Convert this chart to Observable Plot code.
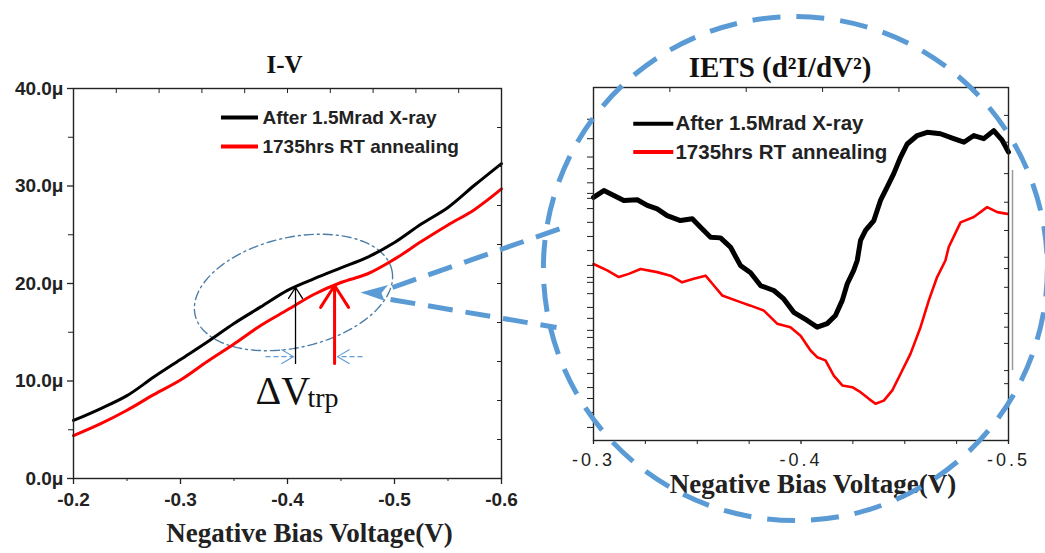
<!DOCTYPE html>
<html>
<head>
<meta charset="utf-8">
<script src="https://cdn.jsdelivr.net/npm/d3@7"></script>
<script src="https://cdn.jsdelivr.net/npm/@observablehq/plot@0.6"></script>
<style>
  html, body { margin: 0; padding: 0; background: #fff; }
  #fig { position: relative; width: 1045px; height: 553px; overflow: hidden; background: #fff; }
  .iets [aria-label="x-axis tick label"] { letter-spacing: 3px; }
</style>
</head>
<body>
<div id="fig"></div>
<script>
// ---------- series ----------
const seriesNames = ["After 1.5Mrad X-ray", "1735hrs RT annealing"];
const seriesColors = ["#000000", "#ff0000"];

// I-V sweep: current in µA against negative bias (V)
const ivVoltage   = [-0.2, -0.225, -0.25, -0.275, -0.3, -0.325, -0.35, -0.375, -0.4, -0.425, -0.45, -0.475, -0.5, -0.525, -0.55, -0.575, -0.6];
const ivAfterXray = [5.95, 7.15, 8.5, 10.4, 12.2, 14.0, 15.9, 17.6, 19.3, 20.5, 21.6, 22.7, 24.2, 26.1, 27.8, 30.1, 32.3];
const ivAnnealed  = [4.4, 5.6, 7.0, 8.6, 10.1, 12.0, 13.8, 15.7, 17.3, 18.9, 20.1, 21.0, 22.5, 24.3, 26.0, 27.6, 29.7];

// IETS (d2I/dV2), arbitrary units
const ietsXrayV = [-0.3, -0.305, -0.3098, -0.3146, -0.3211, -0.3259, -0.3307, -0.3355, -0.3419, -0.3476,
  -0.3516, -0.3564, -0.3612, -0.366, -0.3708, -0.3757, -0.3805, -0.3869, -0.3917, -0.3965,
  -0.403, -0.4078, -0.4126, -0.4166, -0.4199, -0.4223, -0.4254, -0.4271, -0.4287, -0.4311,
  -0.4351, -0.4383, -0.4415, -0.4447, -0.448, -0.4512, -0.456, -0.4608, -0.4672, -0.4736,
  -0.4785, -0.4833, -0.4881, -0.4929, -0.497, -0.5];
const ietsXray = [68.9, 70.8, 69.4, 68.0, 68.2, 66.6, 65.6, 63.7, 62.3, 62.8,
  60.4, 57.6, 57.4, 54.8, 49.6, 47.5, 43.9, 42.5, 40.1, 36.3,
  34.0, 32.1, 33.1, 35.4, 39.7, 44.4, 48.2, 51.0, 56.7, 59.5,
  62.3, 68.0, 71.8, 75.6, 80.3, 84.0, 86.4, 87.3, 86.9, 85.5,
  84.5, 86.4, 85.5, 87.8, 85.0, 81.7];
const ietsAnnealV = [-0.3, -0.3066, -0.3122, -0.317, -0.3227, -0.3307, -0.3371, -0.3427, -0.3483, -0.354,
  -0.358, -0.362, -0.3708, -0.3757, -0.3821, -0.3885, -0.3949, -0.3998, -0.4046, -0.4078,
  -0.4118, -0.4158, -0.4199, -0.4247, -0.4287, -0.4327, -0.4359, -0.4399, -0.444, -0.448,
  -0.4528, -0.4576, -0.4616, -0.4656, -0.4696, -0.4712, -0.4769, -0.4833, -0.4897, -0.4946, -0.4994];
const ietsAnneal = [50.0, 48.2, 46.3, 47.2, 48.6, 47.7, 46.7, 44.8, 45.8, 46.7,
  43.9, 41.1, 39.2, 38.2, 36.8, 33.1, 32.1, 29.7, 25.5, 23.6,
  22.7, 18.4, 15.6, 15.1, 13.7, 11.8, 10.4, 11.3, 14.2, 18.9,
  24.6, 32.1, 39.7, 46.3, 51.0, 54.8, 61.8, 63.3, 66.1, 64.7, 64.2];

// ---------- tick labels ----------
const ivXTicks = [-0.2, -0.3, -0.4, -0.5, -0.6];
const ivXMinor = [-0.25, -0.35, -0.45, -0.55];
const ivXTop = [-0.24, -0.28, -0.32, -0.36, -0.4, -0.44, -0.48, -0.52, -0.56];
const ivYTicks = [0, 10, 20, 30, 40];
const ivYMinor = [5, 15, 25, 35];
const ivYRight = [4, 8, 12, 16, 20, 24, 28, 32, 36];
const ietsXTicks = [-0.3, -0.4, -0.5];
const ietsXMinor = [-0.325, -0.35, -0.375, -0.425, -0.45, -0.475];
const ietsXTop = [-0.3368, -0.3736, -0.4104, -0.4472, -0.484];
const ietsYLeft = [3.7, 7.9, 11.9, 15, 19, 22.9, 26.3, 29.2, 31.2, 34.6, 37.7, 41.6, 44.8, 46.2, 49.6,
  53.8, 57.8, 61.8, 65.7, 68.6, 70, 73, 77, 80.3, 85.5, 91];
const ietsYRight = [16.1, 19.8, 27.5, 32.1, 36, 43.4, 48.7, 51.9, 59.5, 67.5, 75.6, 84.5, 92.1];

// ---------- styling ----------
const sans = "'Liberation Sans', Arial, sans-serif";
const serif = "'Liberation Serif', 'Times New Roman', serif";
const calloutBlue = "#5b9bd5";
const ellipseBlue = "#4d7ea8";
const ink = "#222";

const ivRows = seriesNames.map((name, s) =>
  ivVoltage.map((v, i) => ({v, i: (s === 0 ? ivAfterXray : ivAnnealed)[i], name}))).flat();
const ietsRows = [
  ...ietsXrayV.map((v, i) => ({v, d2: ietsXray[i], name: seriesNames[0]})),
  ...ietsAnnealV.map((v, i) => ({v, d2: ietsAnneal[i], name: seriesNames[1]}))
];

// ---------- I-V annotations (data units) ----------
const ivLegend = seriesNames.map((name, k) => ({name, color: seriesColors[k], i: [37.03, 34.05][k]}));
// dash-dot ring around the trap-affected knee: centre plus two conjugate semi-axes
const trapRing = {v: -0.4056, i: 19.08, a: [-0.0919, 2.33], b: [-0.0116, -5.5]};
const ringPts = d3.range(0, 2 * Math.PI + 0.05, 0.05).map(t => ({
  v: trapRing.v + trapRing.a[0] * Math.cos(t) + trapRing.b[0] * Math.sin(t),
  i: trapRing.i + trapRing.a[1] * Math.cos(t) + trapRing.b[1] * Math.sin(t)
}));
const shiftArrowBlack = [{v: -0.4075, i1: 11.8, i2: 19.6}];
const shiftArrowRed = [{v: -0.4440, i1: 11.8, i2: 19.8}];
const shiftMarkers = [
  {v1: -0.3794, v2: -0.4055, i: 12.5, dir: "right"},
  {v1: -0.4701, v2: -0.4468, i: 12.5, dir: "left"}
];
const calloutTip = [{v: -0.4682, i: 19.08}];
const calloutRays = [
  {v1: -0.4981, i1: 19.59, v2: -0.6607, i2: 25.85},
  {v1: -0.4963, i1: 18.36, v2: -0.6514, i2: 15.49}
];
// swept arrowhead, tip at the origin, pointing left
const sweptHead = {
  draw(ctx, size) {
    const r = Math.sqrt(size / Math.PI);
    ctx.moveTo(0, 0);
    ctx.lineTo(2.3 * r, -0.62 * r);
    ctx.lineTo(1.75 * r, 0.05 * r);
    ctx.lineTo(2.0 * r, 0.7 * r);
    ctx.closePath();
  }
};
// open chevrons, tip at the origin
const chevron = sign => ({
  draw(ctx, size) {
    const r = Math.sqrt(size / Math.PI);
    ctx.moveTo(-sign * r, -0.6 * r);
    ctx.lineTo(0, 0);
    ctx.lineTo(-sign * r, 0.6 * r);
  }
});

const axisFont = {fontFamily: sans, fontWeight: "bold", fontSize: 19, fill: ink, stroke: ink};

const ivPlot = Plot.plot({
  width: 545, height: 553,
  marginLeft: 73, marginRight: 44, marginTop: 88, marginBottom: 75,
  style: "position:absolute;left:0;top:0;overflow:visible;background:transparent;",
  x: {domain: [-0.2, -0.6]},
  y: {domain: [0, 40]},
  color: {type: "identity"},
  marks: [
    Plot.line(ringPts, {x: "v", y: "i", stroke: ellipseBlue, strokeWidth: 1.4, strokeDasharray: "9,4,2,4"}),
    Plot.line(ivRows, {x: "v", y: "i", z: "name", stroke: d => seriesColors[seriesNames.indexOf(d.name)], strokeWidth: 3, curve: "catmull-rom"}),
    Plot.frame({stroke: ink, strokeWidth: 1.4}),
    Plot.axisX(ivXTicks, {anchor: "bottom", tickSize: 6, tickPadding: 8, tickFormat: d => d.toFixed(1), label: null, ...axisFont, strokeWidth: 1.3}),
    Plot.axisX(ivXMinor, {anchor: "bottom", tickSize: 3, tickFormat: () => "", label: null, stroke: ink}),
    Plot.axisX(ivXTop, {anchor: "top", tickSize: -4, tickFormat: () => "", label: null, stroke: ink}),
    Plot.axisY(ivYTicks, {anchor: "left", tickSize: 6, tickPadding: 4, tickFormat: d => d.toFixed(1) + "μ", label: null, ...axisFont, strokeWidth: 1.3}),
    Plot.axisY(ivYMinor, {anchor: "left", tickSize: 5, tickFormat: () => "", label: null, stroke: ink}),
    Plot.axisY(ivYRight, {anchor: "right", tickSize: -5, tickFormat: () => "", label: null, stroke: ink}),
    // legend
    Plot.ruleY(ivLegend, {y: "i", x1: -0.3383, x2: -0.3729, stroke: "color", strokeWidth: 4}),
    Plot.text(ivLegend, {y: "i", x: -0.3766, text: "name", textAnchor: "start", lineAnchor: "middle",
      fontFamily: sans, fontWeight: "bold", fontSize: 19, fill: ink}),
    // threshold shift markers
    Plot.arrow(shiftArrowBlack, {x: "v", y1: "i1", y2: "i2", stroke: "#000", strokeWidth: 1.3, headLength: 15, headAngle: 65}),
    Plot.arrow(shiftArrowRed, {x: "v", y1: "i1", y2: "i2", stroke: "#ff0000", strokeWidth: 3, headLength: 15, headAngle: 65}),
    Plot.link(shiftMarkers, {x1: "v1", x2: "v2", y1: "i", y2: "i", stroke: calloutBlue, strokeWidth: 1.1, strokeDasharray: "5,3"}),
    Plot.dot(shiftMarkers.filter(d => d.dir === "right"), {x: "v2", y: "i", symbol: chevron(1), r: 12, fill: "none", stroke: calloutBlue, strokeWidth: 1.1}),
    Plot.dot(shiftMarkers.filter(d => d.dir === "left"), {x: "v2", y: "i", symbol: chevron(-1), r: 12, fill: "none", stroke: calloutBlue, strokeWidth: 1.1}),
    Plot.text(["ΔV"], {x: -0.3701, y: 7.59, textAnchor: "start", lineAnchor: "bottom", fontFamily: serif, fontSize: 40, fill: "#111"}),
    Plot.text(["trp"], {x: -0.4187, y: 7.3, textAnchor: "start", lineAnchor: "bottom", fontFamily: serif, fontSize: 28, fill: "#111"}),
    // zoom callout towards the IETS panel
    Plot.link(calloutRays, {x1: "v1", y1: "i1", x2: "v2", y2: "i2", stroke: calloutBlue, strokeWidth: 5, strokeDasharray: "25,13"}),
    Plot.dot(calloutTip, {x: "v", y: "i", symbol: sweptHead, r: 12, fill: calloutBlue, stroke: "none"}),
    // titles
    Plot.text(["I-V"], {frameAnchor: "top", dx: -3, dy: -16, lineAnchor: "bottom", fontFamily: serif, fontWeight: "bold", fontSize: 25, fill: "#111"}),
    Plot.text(["Negative Bias Voltage(V)"], {frameAnchor: "bottom", dx: 22, dy: 63, lineAnchor: "bottom", fontFamily: serif, fontWeight: "bold", fontSize: 27, fill: ink})
  ]
});

const ietsLegend = seriesNames.map((name, k) => ({name, color: seriesColors[k], d2: [89.7, 81.7][k]}));
const zoomRing = [{v: -0.3973, d2: 48.7}];

const ietsPlot = Plot.plot({
  width: 515, height: 553,
  marginLeft: 63, marginRight: 37, marginTop: 87, marginBottom: 113,
  className: "iets",
  style: "position:absolute;left:530px;top:0;overflow:visible;background:transparent;",
  x: {domain: [-0.3, -0.5]},
  y: {domain: [0, 100]},
  color: {type: "identity"},
  marks: [
    Plot.line(ietsRows.filter(d => d.name === seriesNames[1]), {x: "v", y: "d2", stroke: seriesColors[1], strokeWidth: 2.6}),
    Plot.line(ietsRows.filter(d => d.name === seriesNames[0]), {x: "v", y: "d2", stroke: seriesColors[0], strokeWidth: 5, strokeLinejoin: "round"}),
    Plot.frame({stroke: ink, strokeWidth: 1.4}),
    Plot.ruleX([-0.5], {y1: 19.8, y2: 76.5, dx: 4, stroke: "#999", strokeWidth: 1.5}),
    Plot.axisX(ietsXTicks, {anchor: "bottom", tickSize: 4, tickPadding: 9, tickFormat: d => d.toFixed(1), label: null,
      fontFamily: sans, fontSize: 18, fill: ink, stroke: ink, strokeWidth: 1.3}),
    Plot.axisX(ietsXMinor, {anchor: "bottom", tickSize: 4, tickFormat: () => "", label: null, stroke: ink}),
    Plot.axisX(ietsXTop, {anchor: "top", tickSize: -4, tickFormat: () => "", label: null, stroke: ink}),
    Plot.axisY(ietsYLeft, {anchor: "left", tickSize: 6, tickFormat: () => "", label: null, stroke: ink}),
    Plot.axisY(ietsYRight, {anchor: "right", tickSize: -5, tickFormat: () => "", label: null, stroke: ink}),
    Plot.ruleY(ietsLegend, {y: "d2", x1: -0.3194, x2: -0.3387, stroke: "color", strokeWidth: 4}),
    Plot.text(ietsLegend, {y: "d2", x: -0.3395, text: "name", textAnchor: "start", lineAnchor: "middle",
      fontFamily: sans, fontWeight: "bold", fontSize: 20.5, fill: ink}),
    Plot.text(["IETS (d²I/dV²)"], {frameAnchor: "top", dx: -21, dy: -11, lineAnchor: "bottom", fontFamily: serif, fontWeight: "bold", fontSize: 29, fill: "#111"}),
    Plot.text(["Negative Bias Voltage(V)"], {frameAnchor: "bottom", dx: 12, dy: 52, lineAnchor: "bottom", fontFamily: serif, fontWeight: "bold", fontSize: 27, fill: ink}),
    // magnifier ring
    Plot.dot(zoomRing, {x: "v", y: "d2", r: 252, fill: "none", stroke: calloutBlue, strokeWidth: 5, strokeDasharray: "28,16"})
  ]
});

const fig = document.getElementById("fig");
fig.appendChild(ivPlot);
fig.appendChild(ietsPlot);
</script>
</body>
</html>
